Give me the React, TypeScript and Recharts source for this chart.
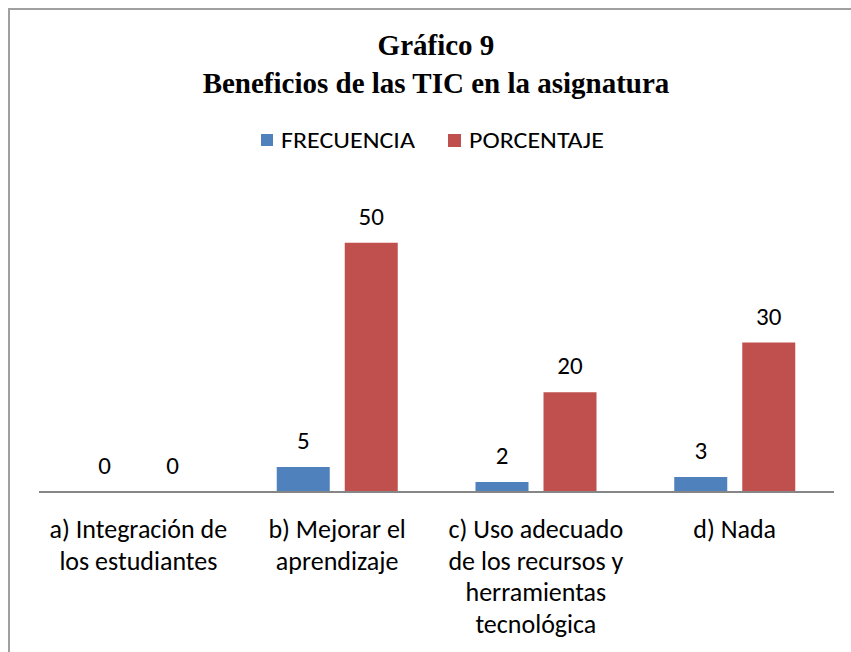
import React from 'react';
import { BarChart, Bar, XAxis, YAxis, LabelList } from 'recharts';

const categories = [
  'a) Integración de|los estudiantes',
  'b) Mejorar el|aprendizaje',
  'c) Uso adecuado|de los recursos y|herramientas|tecnológica',
  'd) Nada',
];
const frecuencia = [0, 5, 2, 3];
const porcentaje = [0, 50, 20, 30];
const seriesNames = ['FRECUENCIA', 'PORCENTAJE'];
const titleLines = ['Gráfico 9', 'Beneficios de las TIC en la asignatura'];

const BLUE = '#4F81BD';
const RED = '#C0504D';
const FONT = "Carlito, 'Open Sans', sans-serif";

const data = categories.map((c, i) => ({
  name: c,
  frecuencia: frecuencia[i],
  porcentaje: porcentaje[i],
}));

const CategoryTick = (props: any) => {
  const { x, y, payload } = props;
  const lines = String(payload.value).split('|');
  return (
    <text x={x} y={y} textAnchor="middle" fontFamily={FONT} fontSize={26} fill="#000">
      {lines.map((l, i) => (
        <tspan key={i} x={x} dy={i === 0 ? 38 : 31.5}>
          {l}
        </tspan>
      ))}
    </text>
  );
};

const ValueLabel = (props: any) => {
  const { x, y, width, value } = props;
  return (
    <text x={Number(x) + Number(width) / 2} y={Number(y) - 18} textAnchor="middle" fontFamily={FONT} fontSize={25} fill="#000">
      {value}
    </text>
  );
};

export default function App() {
  return (
    <div style={{ position: 'absolute', left: 0, top: 0, width: 851, height: 652, overflow: 'hidden', background: '#fff' }}>
      <div
        style={{
          position: 'absolute',
          left: 8,
          top: 8,
          width: 860,
          height: 700,
          border: '2px solid #A0A0A0',
          boxSizing: 'border-box',
        }}
      />
      <div
        style={{
          position: 'absolute',
          left: 0,
          top: 26,
          width: 872,
          textAlign: 'center',
          fontFamily: "'Liberation Serif', 'Times New Roman', serif",
          fontWeight: 'bold',
          fontSize: 29,
          lineHeight: '38px',
          color: '#000',
        }}
      >
        <div>{titleLines[0]}</div>
        <div>{titleLines[1]}</div>
      </div>
      <div
        style={{
          position: 'absolute',
          left: 261,
          top: 124,
          display: 'flex',
          fontFamily: FONT,
          fontSize: 26,
          color: '#000',
          lineHeight: '32px',
        }}
      >
        <div style={{ display: 'flex', alignItems: 'center', width: 187 }}>
          <span style={{ width: 12, height: 12, background: BLUE, display: 'inline-block', marginRight: 8, flexShrink: 0 }} />
          <span style={{ display: 'inline-block', transform: 'scaleY(0.86)' }}>{seriesNames[0]}</span>
        </div>
        <div style={{ display: 'flex', alignItems: 'center' }}>
          <span style={{ width: 13, height: 13, background: RED, display: 'inline-block', marginRight: 8, flexShrink: 0 }} />
          <span style={{ display: 'inline-block', transform: 'scaleY(0.86)' }}>{seriesNames[1]}</span>
        </div>
      </div>
      <div style={{ position: 'absolute', left: 0, top: 0 }}>
        <BarChart
          width={851}
          height={652}
          data={data}
          margin={{ top: 193, right: 17, bottom: 10, left: 39 }}
          barCategoryGap={39}
          barGap={15}
        >
          <YAxis hide domain={[0, 60]} />
          <XAxis
            dataKey="name"
            height={150}
            axisLine={{ stroke: '#868686', strokeWidth: 2 }}
            tickLine={false}
            tick={<CategoryTick />}
            interval={0}
          />
          <Bar dataKey="frecuencia" fill={BLUE} minPointSize={0.01} isAnimationActive={false}>
            <LabelList dataKey="frecuencia" content={<ValueLabel />} />
          </Bar>
          <Bar dataKey="porcentaje" fill={RED} minPointSize={0.01} isAnimationActive={false}>
            <LabelList dataKey="porcentaje" content={<ValueLabel />} />
          </Bar>
        </BarChart>
      </div>
    </div>
  );
}
